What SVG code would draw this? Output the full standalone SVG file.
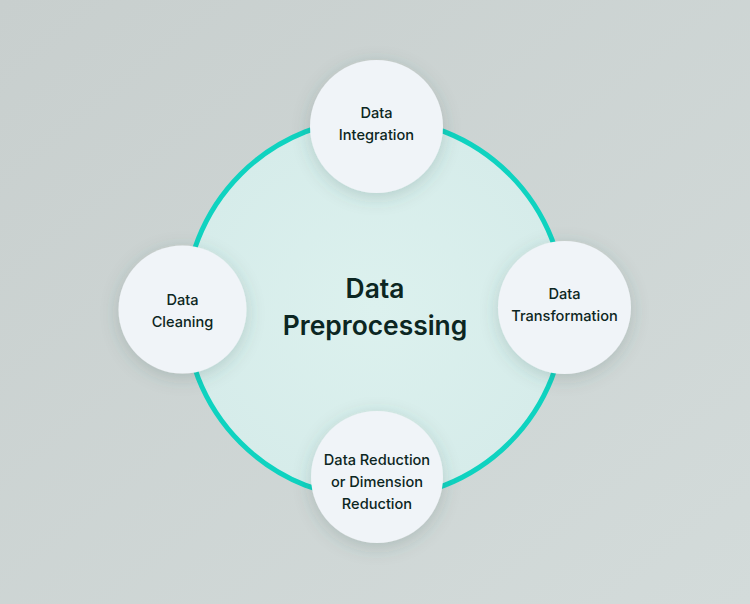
<svg xmlns="http://www.w3.org/2000/svg" width="750" height="604" viewBox="0 0 750 604">
  <style>
    .node { fill: #f0f4f8; filter: url(#shadow); }
    .lbl { font-family: Inter, "Noto Sans", "Liberation Sans", sans-serif; font-size: 14.6px; font-weight: 500; fill: #0c2622; text-anchor: middle; }
    .title { font-family: Inter, "Noto Sans", "Liberation Sans", sans-serif; font-size: 26.4px; font-weight: 600; fill: #0c2622; text-anchor: middle; }
  </style>
  <defs>
    <linearGradient id="bg" x1="0" y1="0" x2="1" y2="1">
      <stop offset="0" stop-color="#c8cfce"/>
      <stop offset="1" stop-color="#d3dbda"/>
    </linearGradient>
    <radialGradient id="hub" cx="0.5" cy="0.5" r="0.5">
      <stop offset="0" stop-color="#dcf1ee"/>
      <stop offset="1" stop-color="#d6ecea"/>
    </radialGradient>
    <filter id="shadow" x="-40%" y="-40%" width="180%" height="180%">
      <feDropShadow dx="0" dy="4" stdDeviation="9" flood-color="#3a5a56" flood-opacity="0.22"/>
    </filter>
  </defs>
  <rect width="750" height="604" fill="url(#bg)"/>
  <g id="hub-node">
    <circle cx="375" cy="308.5" r="190" fill="url(#hub)" stroke="#0fd3c0" stroke-width="5"/>
    <text class="title" x="375" y="298">Data</text>
    <text class="title" x="375" y="335">Preprocessing</text>
  </g>
  <g id="connectors"></g>
  <g id="node-integration">
    <circle class="node" cx="376.5" cy="126.5" r="66.5"/>
    <text class="lbl" x="376.5" y="118">Data</text>
    <text class="lbl" x="376.5" y="140">Integration</text>
  </g>
  <g id="node-cleaning">
    <circle class="node" cx="182.5" cy="309.5" r="64"/>
    <text class="lbl" x="182.5" y="305">Data</text>
    <text class="lbl" x="182.5" y="327">Cleaning</text>
  </g>
  <g id="node-transformation">
    <circle class="node" cx="564.5" cy="307.5" r="66.5"/>
    <text class="lbl" x="564.5" y="299">Data</text>
    <text class="lbl" x="564.5" y="321">Transformation</text>
  </g>
  <g id="node-reduction">
    <circle class="node" cx="377" cy="477" r="66"/>
    <text class="lbl" x="377" y="465">Data Reduction</text>
    <text class="lbl" x="377" y="487">or Dimension</text>
    <text class="lbl" x="377" y="508.5">Reduction</text>
  </g>
</svg>
